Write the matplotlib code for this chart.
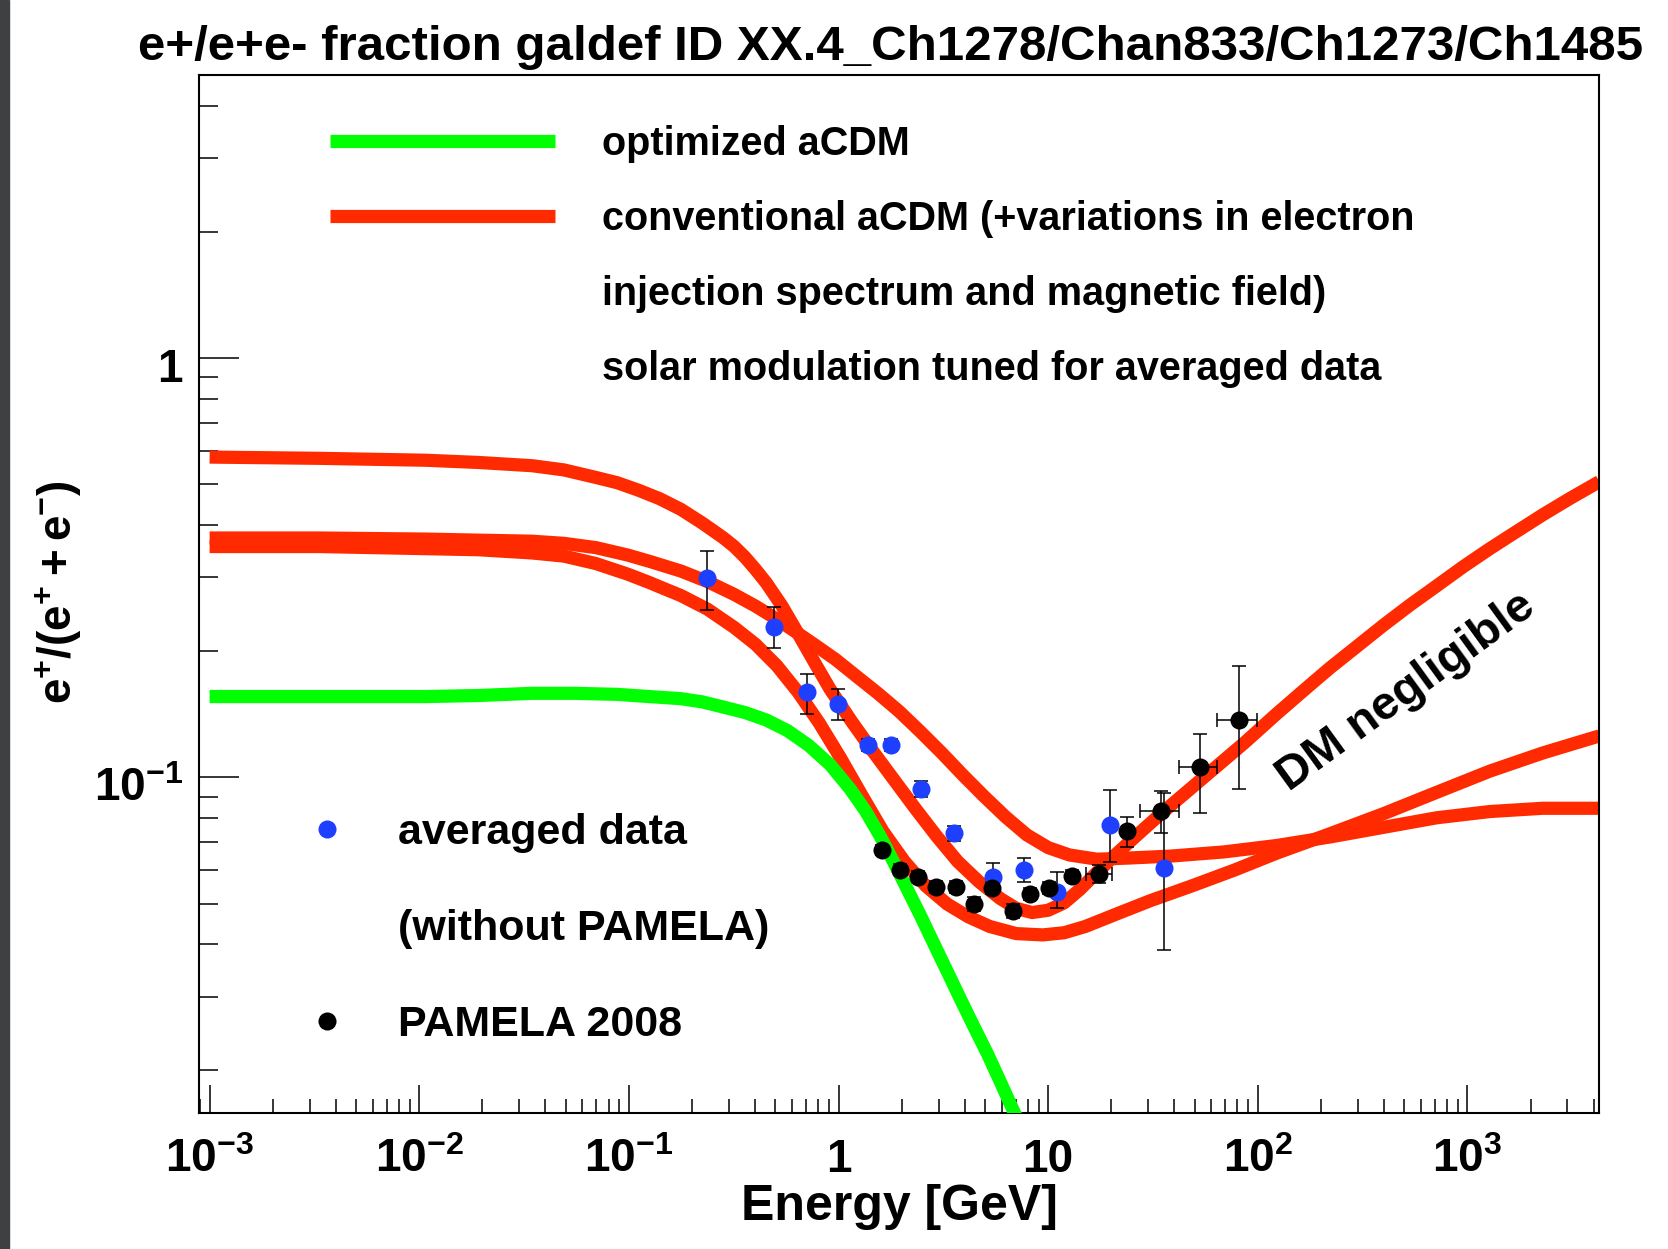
import numpy as np
import matplotlib
matplotlib.use("Agg")
import matplotlib.pyplot as plt
from matplotlib.lines import Line2D
from matplotlib.patches import Rectangle
from matplotlib.transforms import ScaledTranslation
from matplotlib.ticker import FixedLocator, LogLocator, FuncFormatter, NullFormatter

plt.rcParams["font.family"] = ["Liberation Sans", "DejaVu Sans"]
plt.rcParams["font.weight"] = "bold"
plt.rcParams["mathtext.fontset"] = "custom"
plt.rcParams["mathtext.rm"] = "Liberation Sans:bold"
plt.rcParams["mathtext.it"] = "Liberation Sans:bold"
plt.rcParams["mathtext.bf"] = "Liberation Sans:bold"
plt.rcParams["mathtext.default"] = "rm"

RED = "#ff2a00"
GREEN = "#00ff00"
BLUE = "#1f3fff"

# optimized model
energy_opt = [0.001, 0.00333, 0.0107, 0.0192, 0.0345, 0.0551, 0.0879, 0.125, 0.177, 0.224,
              0.283, 0.358, 0.452, 0.571, 0.721, 0.911, 1.137, 1.340, 1.578, 1.836,
              2.113, 2.460, 2.830, 3.295, 3.791, 4.413, 5.136, 5.909, 6.800, 7.915]
frac_opt = [0.1559, 0.1559, 0.1559, 0.1568, 0.1587, 0.1587, 0.1578, 0.1559, 0.1541, 0.1514,
            0.1471, 0.1428, 0.1371, 0.1293, 0.1192, 0.1073, 0.0938, 0.0834, 0.0725, 0.0627,
            0.0545, 0.0468, 0.0404, 0.0345, 0.0298, 0.0255, 0.0219, 0.0188, 0.0161, 0.0137]

# conventional model, three variations
energy_conv1 = [0.001, 0.00333, 0.0107, 0.0192, 0.0345, 0.0490, 0.0696, 0.0879, 0.111, 0.140,
                0.177, 0.224, 0.252, 0.283, 0.318, 0.358, 0.402, 0.452, 0.538, 0.642,
                0.764, 0.911, 1.151, 1.453, 1.836, 2.320, 2.931, 3.702, 4.678, 5.909,
                7.042, 8.393, 10.0, 11.92, 14.20, 17.12, 21.38, 27.01, 34.52, 43.11,
                54.45, 68.81, 86.93, 123.4, 175.3, 221.4, 296.6, 397.2, 531.8, 712.6,
                954.4, 1279, 1712, 2293, 3071, 4260]
frac_conv1 = [0.581, 0.577, 0.571, 0.5640, 0.5541, 0.5414, 0.5195, 0.5047, 0.4844, 0.4624,
              0.4360, 0.4043, 0.3880, 0.3725, 0.3554, 0.3352, 0.3134, 0.2913, 0.2562, 0.2201,
              0.1890, 0.1624, 0.1363, 0.1157, 0.0988, 0.0844, 0.0725, 0.0630, 0.0564, 0.0514,
              0.0487, 0.0476, 0.0482, 0.0502, 0.0541, 0.0594, 0.0660, 0.0734, 0.0819, 0.0900,
              0.0994, 0.1098, 0.1213, 0.1420, 0.1653, 0.1826, 0.2052, 0.2306, 0.2577, 0.2862,
              0.3181, 0.3513, 0.3858, 0.4234, 0.4623, 0.5077]

energy_conv2 = [0.001, 0.00333, 0.0107, 0.0192, 0.0345, 0.0490, 0.0696, 0.0989, 0.126, 0.177,
                0.2375, 0.318, 0.402, 0.496, 0.612, 0.764, 0.966, 1.220, 1.541, 1.947,
                2.460, 3.107, 3.926, 4.960, 6.266, 7.915, 10.0, 12.64, 17.12, 24.03,
                38.36, 68.81, 123.4, 221.4, 397.2, 712.6, 1279, 2293, 4260]
frac_conv2 = [0.3725, 0.3725, 0.3703, 0.3681, 0.3660, 0.3617, 0.3533, 0.3391, 0.3274, 0.3107,
              0.2931, 0.2732, 0.2562, 0.2402, 0.2240, 0.2077, 0.1913, 0.1742, 0.1587, 0.1437,
              0.1285, 0.1144, 0.1012, 0.0900, 0.0805, 0.0729, 0.0680, 0.0653, 0.0638, 0.0642,
              0.0649, 0.0664, 0.0688, 0.0721, 0.0760, 0.0801, 0.0829, 0.0844, 0.0844]

energy_conv3 = [0.001, 0.00333, 0.0107, 0.0192, 0.0345, 0.0490, 0.0696, 0.0989, 0.126, 0.149,
                0.177, 0.2375, 0.318, 0.402, 0.508, 0.642, 0.810, 1.024, 1.293, 1.634,
                2.064, 2.608, 3.295, 4.162, 5.258, 7.042, 9.432, 11.92, 15.06, 21.38,
                30.71, 48.45, 77.32, 123.4, 221.4, 397.2, 712.6, 1279, 2293, 4260]
frac_conv3 = [0.3554, 0.3554, 0.3513, 0.3492, 0.3431, 0.3372, 0.3237, 0.3053, 0.2913, 0.2813,
              0.2716, 0.2518, 0.2279, 0.2077, 0.1847, 0.1596, 0.1347, 0.1111, 0.0906, 0.0742,
              0.0630, 0.0551, 0.0499, 0.0465, 0.0441, 0.0424, 0.0421, 0.0426, 0.0441, 0.0473,
              0.0508, 0.0551, 0.0601, 0.0660, 0.0734, 0.0819, 0.0921, 0.1035, 0.1144, 0.1256]

# averaged measurements (without PAMELA)
avg_energy = [0.237, 0.494, 0.707, 0.993, 1.39, 1.78, 2.47, 3.54, 5.43, 7.64, 11.0, 19.8, 35.6]
avg_frac = [0.299, 0.229, 0.160, 0.1496, 0.1197, 0.1197, 0.0938, 0.0737, 0.058, 0.0602,
            0.0534, 0.0771, 0.0608]
avg_err_lo = [0.048, 0.0256, 0.018, 0.0129, 0.004, 0.004, 0.004, 0.003, 0.0046, 0.004,
              0.0046, 0.0141, 0.022]
avg_err_hi = [0.047, 0.026, 0.0167, 0.013, 0.004, 0.004, 0.004, 0.003, 0.0046, 0.004,
              0.006, 0.0163, 0.0312]

# PAMELA 2008
pam_energy = [1.61, 1.96, 2.39, 2.93, 3.65, 4.45, 5.39, 6.80, 8.22, 10.06,
              13.0, 17.4, 23.9, 34.7, 52.8, 81.7]
pam_frac = [0.0670, 0.0602, 0.0580, 0.0549, 0.0547, 0.0499, 0.0545, 0.0481, 0.0528, 0.0545,
            0.0583, 0.0589, 0.0743, 0.0830, 0.1056, 0.1367]
pam_err_lo = [0.0018, 0.0018, 0.0018, 0.0018, 0.0018, 0.0018, 0.0018, 0.0018, 0.0018, 0.0018,
              0.0018, 0.003, 0.006, 0.0094, 0.0232, 0.0427]
pam_err_hi = [0.0018, 0.0018, 0.0018, 0.0018, 0.0018, 0.0018, 0.0018, 0.0018, 0.0018, 0.0018,
              0.0018, 0.003, 0.006, 0.0096, 0.0214, 0.048]
pam_bin_lo = [0, 0, 0, 0, 0, 0, 0, 0, 0, 0, 0, 2.3, 0, 7.2, 10.8, 17.7]
pam_bin_hi = [0, 0, 0, 0, 0, 0, 0, 0, 0, 0, 0, 2.7, 0, 7.3, 11.2, 17.3]

x_decades = [1e-3, 1e-2, 1e-1, 1, 10, 100, 1000]
y_decades = [0.1, 1]


def decade_label(v, pos):
    e = int(round(np.log10(v)))
    if e == 0:
        return "1"
    if e == 1:
        return "10"
    return r"$10^{%d}$" % e


fig = plt.figure(figsize=(16.68, 12.49), dpi=100)
fig.add_artist(Rectangle((0, 0), 9 / 1668, 1, transform=fig.transFigure,
                         color="#3e4042", zorder=0))
ax = fig.add_axes([0.1193, 0.1091, 0.8393, 0.8309])
ax.set_xscale("log")
ax.set_yscale("log")
ax.set_xlim(0.00089, 4240)
ax.set_ylim(0.01585, 4.74)

lw = 9.5
line_kw = dict(lw=lw, solid_capstyle="butt", solid_joinstyle="round")
ax.plot(energy_conv2, frac_conv2, color=RED, zorder=2, **line_kw)
ax.plot(energy_conv3, frac_conv3, color=RED, zorder=2, **line_kw)
l_conv, = ax.plot(energy_conv1, frac_conv1, color=RED, zorder=2, **line_kw)
l_opt, = ax.plot(energy_opt, frac_opt, color=GREEN, zorder=3, **line_kw)

ax.errorbar(avg_energy, avg_frac, yerr=[avg_err_lo, avg_err_hi], fmt="none",
            ecolor="k", elinewidth=1.1, capsize=5, capthick=1.1, zorder=4)
p_avg, = ax.plot(avg_energy, avg_frac, "o", color=BLUE, ms=13, mec="none", zorder=5)
ax.errorbar(pam_energy, pam_frac, xerr=[pam_bin_lo, pam_bin_hi], yerr=[pam_err_lo, pam_err_hi],
            fmt="none", ecolor="k", elinewidth=1.1, capsize=5, capthick=1.1, zorder=4)
p_pam, = ax.plot(pam_energy, pam_frac, "o", color="k", ms=13, mec="none", zorder=6)

ax.xaxis.set_major_locator(FixedLocator(x_decades))
ax.xaxis.set_minor_locator(LogLocator(base=10, subs=np.arange(2, 10), numticks=50))
ax.xaxis.set_major_formatter(FuncFormatter(decade_label))
ax.xaxis.set_minor_formatter(NullFormatter())
ax.yaxis.set_major_locator(FixedLocator(y_decades))
ax.yaxis.set_minor_locator(LogLocator(base=10, subs=np.arange(2, 10), numticks=50))
ax.yaxis.set_major_formatter(FuncFormatter(lambda v, p: "1" if v == 1 else r"$10^{-1}$"))
ax.yaxis.set_minor_formatter(NullFormatter())

ax.tick_params(axis="both", which="both", direction="in", top=False, right=False, width=1.1)
ax.tick_params(axis="x", which="major", length=20, pad=43, labelsize=33)
ax.tick_params(axis="x", which="minor", length=10)
ax.tick_params(axis="y", which="major", length=29, pad=11.5, labelsize=33)
ax.tick_params(axis="y", which="minor", length=13.7)
for lbl in ax.get_xticklabels():
    lbl.set_verticalalignment("baseline")
shift_down = ScaledTranslation(0, -0.065, fig.dpi_scale_trans)
for lbl in ax.get_yticklabels():
    lbl.set_transform(lbl.get_transform() + shift_down)
for s in ax.spines.values():
    s.set_linewidth(1.5)

blank = Line2D([], [], color="none")
leg1 = ax.legend([l_opt, l_conv, blank, blank],
                 ["optimized aCDM",
                  "conventional aCDM (+variations in electron",
                  "injection spectrum and magnetic field)",
                  "solar modulation tuned for averaged data"],
                 loc="upper left", bbox_to_anchor=(0.0936, 0.9515), frameon=False,
                 fontsize=28.5, handlelength=5.68, handletextpad=1.19, labelspacing=0.93,
                 borderpad=0, borderaxespad=0)
ax.add_artist(leg1)
ax.legend([p_avg, blank, p_pam], ["averaged data", "(without PAMELA)", "PAMELA 2008"],
          loc="upper left", bbox_to_anchor=(0.0758, 0.2886), frameon=False,
          fontsize=31, handlelength=1.0, handletextpad=1.15, labelspacing=1.3,
          borderpad=0, borderaxespad=0)

ax.text(0.8624, 0.4059, "DM negligible", transform=ax.transAxes, rotation=36,
        rotation_mode="anchor", ha="center", va="center", fontsize=34)

ax.set_xlabel("Energy [GeV]", fontsize=36, fontweight="bold")
ax.xaxis.set_label_coords(0.5, -0.069)
ax.set_ylabel(r"$e^{+}/(e^{+}+e^{-})$", fontsize=33, va="center")
ax.yaxis.set_label_coords(-0.1004, 0.5013)

fig.text(0.0829, 0.9523, "e+/e+e- fraction galdef ID XX.4_Ch1278/Chan833/Ch1273/Ch1485",
         fontsize=35.5, ha="left", va="baseline")

fig.savefig("out.png", dpi=100)
